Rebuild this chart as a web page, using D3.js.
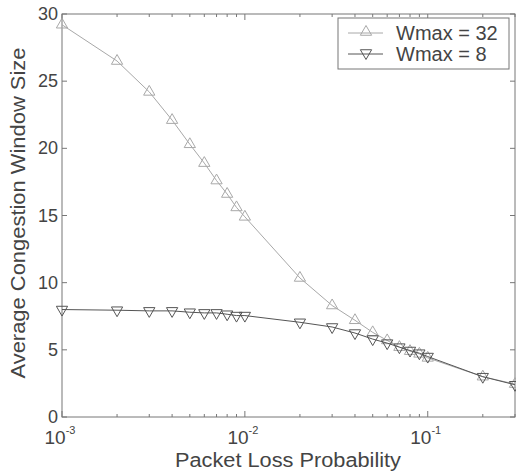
<!DOCTYPE html>
<html>
<head>
<meta charset="utf-8">
<script src="https://cdn.jsdelivr.net/npm/d3@7"></script>
<style>
  body { margin: 0; background: #fff; }
  text { font-family: "Liberation Sans", Arial, sans-serif; fill: #444; }
</style>
</head>
<body>
<div id="chart"></div>
<script>
var svgWidth = 516;
var svgHeight = 471;

var leftMargin = 62;
var rightMargin = 1;
var topMargin = 14;
var bottomMargin = 54;

var chartWidth = svgWidth - leftMargin - rightMargin;
var chartHeight = svgHeight - topMargin - bottomMargin;

// packet loss probabilities
var lossProb = [0.001, 0.002, 0.003, 0.004, 0.005, 0.006, 0.007, 0.008, 0.009, 0.01,
                0.02, 0.03, 0.04, 0.05, 0.06, 0.07, 0.08, 0.09, 0.1, 0.2, 0.3];

// average congestion window, Wmax = 32
var wmax32 = [29.2, 26.5, 24.2, 22.1, 20.3, 18.9, 17.6, 16.6, 15.6, 14.9,
              10.35, 8.3, 7.2, 6.3, 5.7, 5.2, 4.9, 4.7, 4.4, 3.0, 2.45];

// average congestion window, Wmax = 8
var wmax8 = [8.0, 7.95, 7.9, 7.9, 7.8, 7.75, 7.75, 7.65, 7.55, 7.55,
             7.05, 6.7, 6.25, 5.8, 5.5, 5.2, 4.95, 4.75, 4.5, 3.0, 2.4];

var yTicks = [0, 5, 10, 15, 20, 25, 30];
var xTicks = [0.001, 0.01, 0.1];
var xTickExp = ['-3', '-2', '-1'];
var minorTicks = [0.002, 0.003, 0.004, 0.005, 0.006, 0.007, 0.008, 0.009,
                  0.02, 0.03, 0.04, 0.05, 0.06, 0.07, 0.08, 0.09, 0.2, 0.3];

var seriesNames = ['Wmax = 32', 'Wmax = 8'];
var seriesColors = ['#a8a8a8', '#555555'];

var svg = d3.select('#chart')
    .append('svg')
    .attr('width', svgWidth)
    .attr('height', svgHeight);

var chart = svg.append('g')
    .attr('transform', `translate(${leftMargin}, ${topMargin})`);

var x = d3.scaleLog()
    .domain([0.001, 0.3])
    .range([0, chartWidth]);

var y = d3.scaleLinear()
    .domain([0, 30])
    .range([chartHeight, 0]);

var axisColor = '#777';

// frame
chart.append('rect')
    .attr('x', 0).attr('y', 0)
    .attr('width', chartWidth).attr('height', chartHeight)
    .attr('fill', 'none')
    .attr('stroke', axisColor)
    .attr('stroke-width', 1);

// y ticks left + right (inward)
yTicks.forEach(function(t) {
    chart.append('line')
        .attr('x1', 0).attr('x2', 5)
        .attr('y1', y(t)).attr('y2', y(t))
        .attr('stroke', axisColor);
    chart.append('line')
        .attr('x1', chartWidth - 5).attr('x2', chartWidth)
        .attr('y1', y(t)).attr('y2', y(t))
        .attr('stroke', axisColor);
    chart.append('text')
        .attr('x', -4)
        .attr('y', y(t) + 6)
        .attr('text-anchor', 'end')
        .style('font-size', '18px')
        .text(t);
});

// x ticks bottom + top
xTicks.concat(minorTicks).forEach(function(t) {
    var len = xTicks.indexOf(t) >= 0 ? 6 : 3;
    chart.append('line')
        .attr('x1', x(t)).attr('x2', x(t))
        .attr('y1', chartHeight).attr('y2', chartHeight - len)
        .attr('stroke', axisColor);
    chart.append('line')
        .attr('x1', x(t)).attr('x2', x(t))
        .attr('y1', 0).attr('y2', len)
        .attr('stroke', axisColor);
});

xTicks.forEach(function(t, i) {
    var lbl = chart.append('text')
        .attr('x', x(t) - 2)
        .attr('y', chartHeight + 27)
        .attr('text-anchor', 'middle')
        .style('font-size', '19px');
    lbl.append('tspan').text('10');
    lbl.append('tspan')
        .attr('dy', -10)
        .style('font-size', '11px')
        .text(xTickExp[i]);
});

// axis titles
svg.append('text')
    .attr('x', 288)
    .attr('y', 467)
    .attr('text-anchor', 'middle')
    .attr('textLength', 226)
    .attr('lengthAdjust', 'spacingAndGlyphs')
    .style('font-size', '20px')
    .text('Packet Loss Probability');

svg.append('text')
    .attr('transform', 'translate(25, 213) rotate(-90)')
    .attr('text-anchor', 'middle')
    .attr('textLength', 331)
    .attr('lengthAdjust', 'spacingAndGlyphs')
    .style('font-size', '20px')
    .text('Average Congestion Window Size');

var series = [wmax32, wmax8];

var line = d3.line()
    .x(function(d, i) { return x(lossProb[i]); })
    .y(function(d) { return y(d); });

var triUp = d3.symbol().type(d3.symbolTriangle).size(55);

series.forEach(function(s, k) {
    chart.append('path')
        .datum(s)
        .attr('d', line)
        .attr('fill', 'none')
        .attr('stroke', seriesColors[k])
        .attr('stroke-width', 1);

    chart.selectAll('.pt' + k)
        .data(s)
        .enter()
        .append('path')
        .attr('class', 'pt' + k)
        .attr('d', triUp)
        .attr('transform', function(d, i) {
            return `translate(${x(lossProb[i])}, ${y(d)})` + (k === 1 ? ' rotate(180)' : '');
        })
        .attr('fill', 'none')
        .attr('stroke', seriesColors[k])
        .attr('stroke-width', 1);
});

// legend
var legend = svg.append('g')
    .attr('transform', 'translate(338, 18)');

legend.append('rect')
    .attr('width', 171)
    .attr('height', 51)
    .attr('fill', '#fff')
    .attr('stroke', axisColor);

seriesNames.forEach(function(name, k) {
    var ly = 15 + k * 21;
    legend.append('line')
        .attr('x1', 10).attr('x2', 45)
        .attr('y1', ly).attr('y2', ly)
        .attr('stroke', seriesColors[k]);
    legend.append('path')
        .attr('d', triUp)
        .attr('transform', `translate(28, ${ly - 1})` + (k === 1 ? ' rotate(180)' : ''))
        .attr('fill', 'none')
        .attr('stroke', seriesColors[k]);
    legend.append('text')
        .attr('x', 58)
        .attr('y', ly + 7)
        .style('font-size', '20px')
        .text(name);
});
</script>
</body>
</html>
